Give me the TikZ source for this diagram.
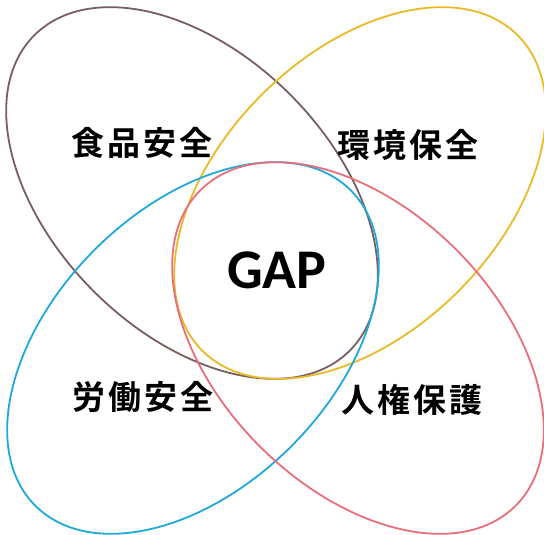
\documentclass[tikz,border=0pt]{standalone}
\usepackage{fontspec}
\newfontfamily\cjk{Noto Sans CJK JP}[BoldFont={Noto Sans CJK JP Bold}]
\newfontfamily\gapfont{Carlito}
\definecolor{cbrown}{RGB}{120,95,95}
\definecolor{cyellow}{RGB}{234,185,40}
\definecolor{cblue}{RGB}{30,168,220}
\definecolor{cred}{RGB}{232,110,122}
\begin{document}
\begin{tikzpicture}[x=1pt,y=1pt,
  ring/.style={line width=1.8pt},
  label/.style={font=\cjk\bfseries\fontsize{33}{33}\selectfont\addfontfeature{LetterSpace=9}, inner sep=0pt},
  center/.style={font=\gapfont\bfseries\fontsize{56}{56}\selectfont, inner sep=0pt}]
\useasboundingbox (0,0) rectangle (544,535);
\draw[ring, cbrown, rotate around={-45:(192,342)}] (192,342) ellipse [x radius=223, y radius=139];
\draw[ring, cyellow, rotate around={45:(360,342)}] (360,342) ellipse [x radius=223, y radius=139];
\draw[ring, cblue, rotate around={45:(193,187)}] (193,187) ellipse [x radius=223, y radius=139];
\draw[ring, cred, rotate around={-45:(358,187)}] (358,187) ellipse [x radius=223, y radius=139];
\node[label] (food) at (142,392) {食品安全};
\node[label] (env) at (408,390) {環境保全};
\node[label] (labor) at (143,138) {労働安全};
\node[label] (human) at (412,135) {人権保護};
\node[center] (gap) at (277,265) {GAP};
\end{tikzpicture}
\end{document}
